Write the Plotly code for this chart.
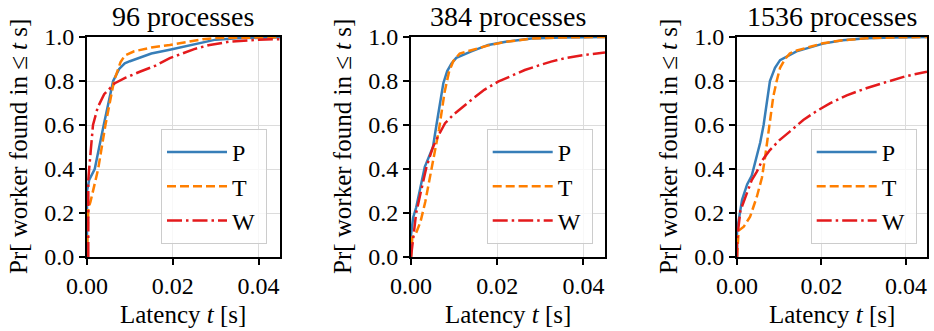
import plotly.graph_objects as go

# Latency CDFs (t in seconds, cumulative probability) for three process counts
titles = ["96 processes", "384 processes", "1536 processes"]
names = ["P", "T", "W"]
colors = ["#377eb8", "#ff7f00", "#e41a1c"]
dashes = ["solid", "9px,4px", "15px,4px,2.5px,4px"]

# 96 processes
p96_t = [0, 0, 0.0005, 0.0018, 0.0039, 0.0061, 0.0075, 0.0088, 0.0100, 0.0120, 0.0150, 0.0193, 0.0230, 0.0270, 0.0300, 0.0350, 0.0400, 0.0450]
p96_p = [0, 0.30, 0.35, 0.40, 0.60, 0.80, 0.855, 0.88, 0.89, 0.905, 0.925, 0.942, 0.958, 0.975, 0.988, 0.994, 0.997, 0.999]
t96_t = [0, 0.0001, 0.0003, 0.0008, 0.0026, 0.0043, 0.0063, 0.0078, 0.0088, 0.0110, 0.0150, 0.0193, 0.0240, 0.0270, 0.0300, 0.0350, 0.0450]
t96_p = [0, 0.10, 0.22, 0.25, 0.40, 0.60, 0.80, 0.885, 0.915, 0.935, 0.952, 0.964, 0.980, 0.990, 0.995, 0.997, 0.999]
w96_t = [0.0003, 0.0003, 0.0005, 0.0014, 0.0025, 0.0040, 0.0065, 0.0090, 0.0123, 0.0160, 0.0193, 0.0216, 0.0250, 0.0286, 0.0330, 0.0400, 0.0450]
w96_p = [0, 0.35, 0.40, 0.60, 0.68, 0.74, 0.79, 0.815, 0.842, 0.870, 0.904, 0.920, 0.945, 0.964, 0.978, 0.988, 0.990]

# 384 processes
p384_t = [0, 0, 0.0005, 0.0012, 0.0032, 0.0051, 0.0059, 0.0068, 0.0075, 0.0084, 0.0094, 0.0105, 0.0140, 0.0179, 0.0220, 0.0279, 0.0350, 0.0450]
p384_p = [0, 0.10, 0.18, 0.225, 0.41, 0.50, 0.60, 0.71, 0.79, 0.845, 0.88, 0.905, 0.935, 0.964, 0.978, 0.993, 0.998, 1.0]
t384_t = [0, 0.0003, 0.0010, 0.0022, 0.0033, 0.0045, 0.0055, 0.0065, 0.0078, 0.0088, 0.0098, 0.0113, 0.0140, 0.0180, 0.0220, 0.0280, 0.0350, 0.0450]
t384_p = [0, 0.09, 0.10, 0.16, 0.25, 0.37, 0.47, 0.58, 0.75, 0.84, 0.89, 0.925, 0.94, 0.962, 0.978, 0.993, 0.998, 1.0]
w384_t = [0, 0.0005, 0.0012, 0.0021, 0.0036, 0.0051, 0.0063, 0.0079, 0.0100, 0.0140, 0.0170, 0.0202, 0.0235, 0.0264, 0.0295, 0.0325, 0.0360, 0.0400, 0.0450]
w384_p = [0, 0.08, 0.20, 0.28, 0.41, 0.50, 0.55, 0.608, 0.65, 0.714, 0.76, 0.797, 0.825, 0.85, 0.87, 0.888, 0.905, 0.918, 0.930]

# 1536 processes
p1536_t = [0, 0, 0.0012, 0.0024, 0.0035, 0.0047, 0.0055, 0.0063, 0.0070, 0.0078, 0.0090, 0.0102, 0.0141, 0.0204, 0.0250, 0.0306, 0.0370, 0.0450]
p1536_p = [0, 0.12, 0.26, 0.33, 0.37, 0.456, 0.52, 0.60, 0.70, 0.80, 0.86, 0.895, 0.935, 0.970, 0.985, 0.994, 0.998, 1.0]
t1536_t = [0, 0.0004, 0.0016, 0.0031, 0.0047, 0.0059, 0.0067, 0.0073, 0.0078, 0.0086, 0.0094, 0.0102, 0.0114, 0.0125, 0.0135, 0.0204, 0.0250, 0.0306, 0.0370, 0.0450]
t1536_p = [0, 0.12, 0.138, 0.183, 0.274, 0.36, 0.46, 0.55, 0.62, 0.73, 0.80, 0.86, 0.90, 0.925, 0.935, 0.972, 0.985, 0.994, 0.998, 1.0]
w1536_t = [0, 0, 0.0008, 0.0020, 0.0035, 0.0047, 0.0060, 0.0078, 0.0100, 0.0125, 0.0157, 0.0190, 0.0220, 0.0260, 0.0306, 0.0350, 0.0400, 0.0450]
w1536_p = [0, 0.077, 0.21, 0.274, 0.35, 0.388, 0.44, 0.486, 0.53, 0.57, 0.623, 0.665, 0.698, 0.735, 0.767, 0.793, 0.822, 0.842]

panels = [
    [(p96_t, p96_p), (t96_t, t96_p), (w96_t, w96_p)],
    [(p384_t, p384_p), (t384_t, t384_p), (w384_t, w384_p)],
    [(p1536_t, p1536_p), (t1536_t, t1536_p), (w1536_t, w1536_p)],
]

x_ticks = [0.0, 0.02, 0.04]
x_tick_text = ["0.00", "0.02", "0.04"]
y_ticks = [0.0, 0.2, 0.4, 0.6, 0.8, 1.0]
y_tick_text = ["0.0", "0.2", "0.4", "0.6", "0.8", "1.0"]

W, H = 934, 331
FONT = "Liberation Serif"
x_domains = [(87 / W, 280 / W), (411 / W, 605 / W), (737 / W, 927 / W)]
y_domain = ((H - 257) / H, (H - 37) / H)
legend_right = [267 / W, 592.7 / W, 916.7 / W]

fig = go.Figure()
layout = dict(
    template="none",
    width=W, height=H,
    margin=dict(l=0, r=0, t=0, b=0, autoexpand=False),
    paper_bgcolor="white", plot_bgcolor="white",
    font=dict(family=FONT, size=24, color="black"),
    annotations=[],
)

for i, series in enumerate(panels):
    sfx = "" if i == 0 else str(i + 1)
    leg = "legend" if i == 0 else f"legend{i + 1}"
    for j, (tx, py) in enumerate(series):
        fig.add_trace(go.Scatter(
            x=tx, y=py, mode="lines", name=names[j] + "\u00a0",
            line=dict(color=colors[j], width=2.5, dash=dashes[j]),
            xaxis="x" + sfx, yaxis="y" + sfx, legend=leg,
        ))
    axis_common = dict(
        showline=True, linecolor="black", linewidth=1.8, mirror=True,
        ticks="outside", ticklen=6, tickwidth=1.8, tickcolor="black",
        showgrid=True, gridcolor="#dcdcdc", gridwidth=1.3,
        zeroline=False, automargin=False,
        tickfont=dict(family=FONT, size=24),
    )
    layout["xaxis" + sfx] = dict(
        axis_common, domain=x_domains[i], range=[0, 0.045],
        tickvals=x_ticks, ticktext=x_tick_text, anchor="y" + sfx,
    )
    layout["yaxis" + sfx] = dict(
        axis_common, domain=y_domain, range=[0, 1.0],
        tickvals=y_ticks, ticktext=y_tick_text, anchor="x" + sfx,
    )
    layout[leg] = dict(
        x=legend_right[i], y=(H - 244) / H, xanchor="right", yanchor="bottom",
        bgcolor="rgba(255,255,255,0.8)", bordercolor="#cccccc", borderwidth=1,
        font=dict(family=FONT, size=24), itemwidth=60,
    )
    xc = (x_domains[i][0] + x_domains[i][1]) / 2
    layout["annotations"] += [
        dict(text=titles[i], x=xc, y=y_domain[1], xref="paper", yref="paper",
             xanchor="center", yanchor="middle", yshift=20, showarrow=False,
             font=dict(family=FONT, size=28)),
        dict(text="Latency <i>t</i> [s]", x=xc, y=y_domain[0], xref="paper", yref="paper",
             xanchor="center", yanchor="middle", yshift=-57, showarrow=False,
             font=dict(family=FONT, size=25)),
        dict(text="Pr[ worker found in \u2264 <i>t</i> s]", x=x_domains[i][0],
             y=(y_domain[0] + y_domain[1]) / 2, xref="paper", yref="paper",
             xanchor="center", yanchor="middle", xshift=-69, textangle=-90,
             showarrow=False, font=dict(family=FONT, size=25)),
    ]

fig.update_layout(**layout)
fig.write_html("out.html")
